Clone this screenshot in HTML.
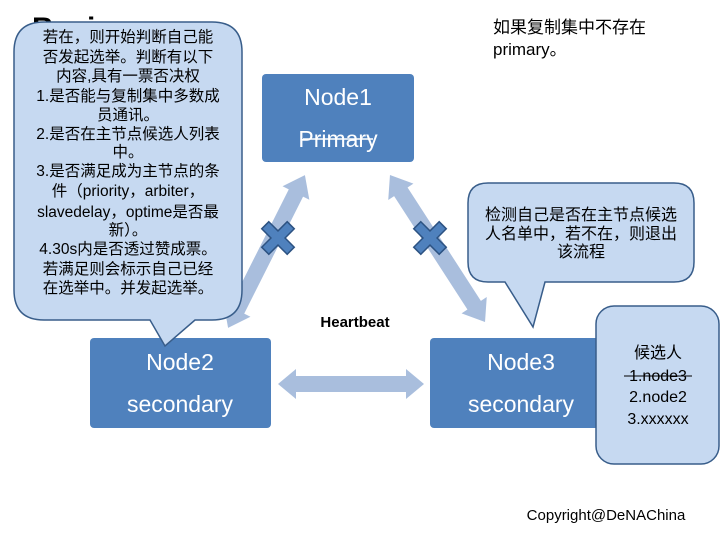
<!DOCTYPE html>
<html><head><meta charset="utf-8"><style>
body{margin:0;background:#fff;}
svg{display:block;font-family:"Liberation Sans","Noto Sans CJK SC",sans-serif;}
</style></head><body>
<svg width="720" height="540" viewBox="0 0 720 540" xmlns="http://www.w3.org/2000/svg">
<text x="32" y="38" font-size="30" font-weight="bold" fill="#000">Basic</text>
<g fill="#A9BEDD">
<polygon transform="translate(266.5,251.5) rotate(116.7)" points="-85.5,0 -65.5,-15 -65.5,-8 65.5,-8 65.5,-15 85.5,0 65.5,15 65.5,8 -65.5,8 -65.5,15"/>
<polygon transform="translate(437.5,248.5) rotate(57.1)" points="-87.5,0 -67.5,-15 -67.5,-8 67.5,-8 67.5,-15 87.5,0 67.5,15 67.5,8 -67.5,8 -67.5,15"/>
<polygon transform="translate(351,384)" points="-73,0 -55,-15 -55,-8 55,-8 55,-15 73,0 55,15 55,8 -55,8 -55,15"/>
</g>
<g fill="#4F81BD" stroke="#2C5282" stroke-width="1.5">
<polygon transform="translate(278,238) rotate(45)" points="-18,-5 -5,-5 -5,-18 5,-18 5,-5 18,-5 18,5 5,5 5,18 -5,18 -5,5 -18,5"/>
<polygon transform="translate(430,238) rotate(45)" points="-18,-5 -5,-5 -5,-18 5,-18 5,-5 18,-5 18,5 5,5 5,18 -5,18 -5,5 -18,5"/>
</g>
<rect x="262" y="74" width="152" height="88" rx="4" fill="#4F81BD"/>
<text x="338" y="105" font-size="23" fill="#fff" text-anchor="middle">Node1</text>
<text x="338" y="147" font-size="23" fill="#fff" text-anchor="middle">Primary</text>
<line x1="303" y1="139" x2="373" y2="139" stroke="#fff" stroke-width="1.5"/>
<rect x="90" y="338" width="181" height="90" rx="4" fill="#4F81BD"/>
<text x="180" y="370" font-size="23" fill="#fff" text-anchor="middle">Node2</text>
<text x="180" y="412" font-size="23" fill="#fff" text-anchor="middle">secondary</text>
<rect x="430" y="338" width="182" height="90" rx="4" fill="#4F81BD"/>
<text x="521" y="370" font-size="23" fill="#fff" text-anchor="middle">Node3</text>
<text x="521" y="412" font-size="23" fill="#fff" text-anchor="middle">secondary</text>
<text x="355" y="327" font-size="15" font-weight="bold" text-anchor="middle">Heartbeat</text>
<path d="M44,22 H212 Q242,22 242,52 V290 Q242,320 212,320 H195 L165,346 L150,320 H44 Q14,320 14,290 V52 Q14,22 44,22 Z" fill="#C6D9F1" stroke="#385D8A" stroke-width="1.5"/>
<g font-size="15.5" text-anchor="middle" fill="#000">
<text x="128" y="42">若在，则开始判断自己能</text>
<text x="128" y="62">否发起选举。判断有以下</text>
<text x="128" y="81">内容,具有一票否决权</text>
<text x="128" y="101">1.是否能与复制集中多数成</text>
<text x="128" y="120">员通讯。</text>
<text x="128" y="139">2.是否在主节点候选人列表</text>
<text x="128" y="157">中。</text>
<text x="128" y="176">3.是否满足成为主节点的条</text>
<text x="128" y="196">件（priority，arbiter，</text>
<text x="128" y="217">slavedelay，optime是否最</text>
<text x="128" y="235">新）。</text>
<text x="128" y="254">4.30s内是否透过赞成票。</text>
<text x="128" y="274">若满足则会标示自己已经</text>
<text x="128" y="293">在选举中。并发起选举。</text>
</g>
<path d="M488,183 H674 Q694,183 694,203 V262 Q694,282 674,282 H545 L533,327 L505,282 H488 Q468,282 468,262 V203 Q468,183 488,183 Z" fill="#C6D9F1" stroke="#385D8A" stroke-width="1.5"/>
<g font-size="16" text-anchor="middle">
<text x="581" y="220">检测自己是否在主节点候选</text>
<text x="581" y="239">人名单中，若不在，则退出</text>
<text x="581" y="257">该流程</text>
</g>
<rect x="596" y="306" width="123" height="158" rx="18" fill="#C6D9F1" stroke="#385D8A" stroke-width="1.5"/>
<g font-size="16" text-anchor="middle">
<text x="658" y="358">候选人</text>
<text x="658" y="381">1.node3</text>
<text x="658" y="402">2.node2</text>
<text x="658" y="424">3.xxxxxx</text>
</g>
<line x1="624" y1="376" x2="692" y2="376" stroke="#000" stroke-width="1"/>
<text x="493" y="33" font-size="17">如果复制集中不存在</text>
<text x="493" y="55" font-size="17">primary。</text>
<text x="606" y="520" font-size="15" text-anchor="middle">Copyright@DeNAChina</text>
</svg>
</body></html>
